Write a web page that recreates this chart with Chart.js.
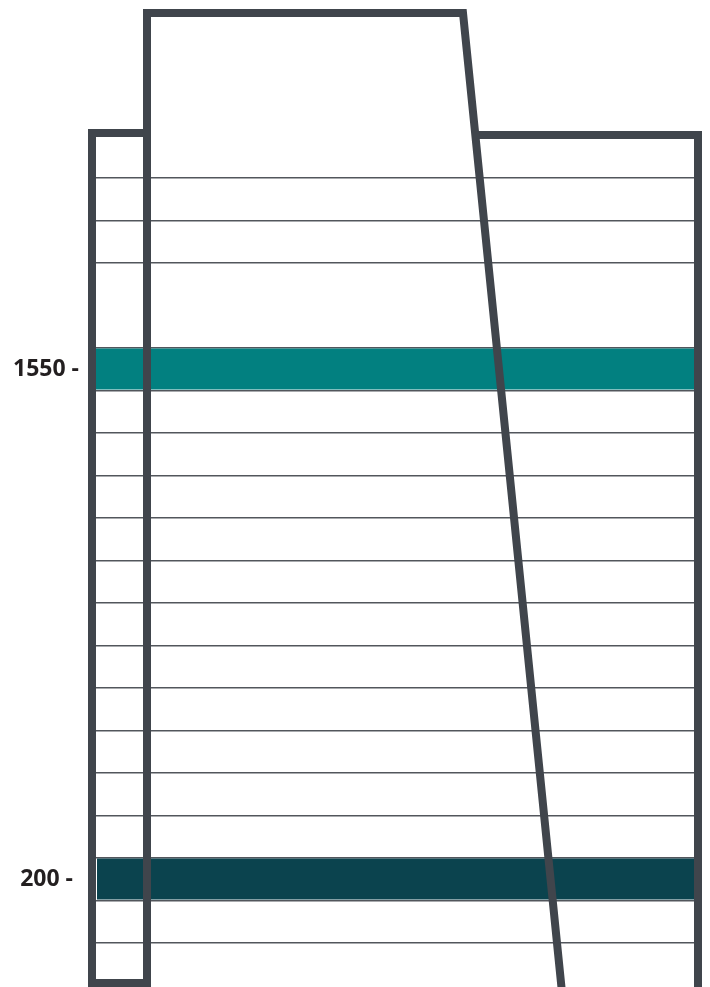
<!DOCTYPE html>
<html>
<head>
<meta charset="utf-8">
<script src="https://cdn.jsdelivr.net/npm/chart.js@4/dist/chart.umd.min.js"></script>
<style>
  html, body { margin: 0; padding: 0; background: #ffffff; }
  #wrap { width: 710px; height: 987px; position: relative; }
</style>
</head>
<body>
<div id="wrap"><canvas id="c"></canvas></div>
<script>
// ---- data ----
const bandValues = [200, 1550];
const tickLabels = ['200 - ', '1550 -'];
const rowEdges = [31.25, 143.75, 256.25, 368.75, 481.25, 593.75, 706.25, 818.75,
                  931.25, 1043.75, 1156.25, 1268.75, 1381.25, 1493.75, 1606.25,
                  1831.25, 1943.75, 2056.25];
// outline shapes (x in horizontal units, y in value units)
const outlineMainX = [147, 92, 92, 147, 147, 463, 562];
const outlineMainY = [2174.7, 2174.7, -75.3, -75.3, 2492.4, 2492.4, -100];
const outlineRightX = [474, 698, 698];
const outlineRightY = [2169.4, 2169.4, -100];

// ---- styles ----
const bandColors = ['#0b434e', '#028080'];
const bandXRange = [[97, 698], [96, 694]];
const outlineColor = '#40454c';

function pts(xs, ys) { return xs.map((x, i) => ({ x: x, y: ys[i] })); }

const datasets = [
  { data: pts(outlineMainX, outlineMainY), borderColor: outlineColor, borderWidth: 8,
    borderJoinStyle: 'miter', borderCapStyle: 'butt', pointRadius: 0, fill: false,
    tension: 0, clip: false, order: 1 },
  { data: pts(outlineRightX, outlineRightY), borderColor: outlineColor, borderWidth: 8,
    borderJoinStyle: 'miter', borderCapStyle: 'butt', pointRadius: 0, fill: false,
    tension: 0, clip: false, order: 1 }
];
bandValues.forEach((v, i) => {
  datasets.push({
    data: [{ x: bandXRange[i][0], y: v }, { x: bandXRange[i][1], y: v }],
    borderColor: bandColors[i], borderWidth: 41, borderCapStyle: 'butt',
    pointRadius: 0, fill: false, clip: false, order: 2
  });
});

const labelSet = new Set(bandValues);

new Chart(document.getElementById('c'), {
  type: 'line',
  data: { datasets: datasets },
  options: {
    responsive: true,
    maintainAspectRatio: false,
    animation: false,
    layout: { padding: { left: 0, right: 8, top: 0, bottom: 0 } },
    plugins: { legend: { display: false }, tooltip: { enabled: false } },
    scales: {
      x: { type: 'linear', min: 88, max: 702, display: false },
      y: {
        type: 'linear', min: -85.9, max: 2526.8,
        position: 'left',
        afterFit: (s) => { s.width = 88; s.paddingTop = 0; s.paddingBottom = 0; },
        afterBuildTicks: (s) => {
          const vals = rowEdges.concat(bandValues).sort((a, b) => a - b);
          s.ticks = vals.map(v => ({ value: v }));
        },
        border: { display: false },
        grid: {
          drawTicks: false,
          lineWidth: 1.4,
          color: (ctx) => (ctx.tick && labelSet.has(ctx.tick.value)) ? 'rgba(0,0,0,0)' : '#52565c'
        },
        ticks: {
          autoSkip: false,
          padding: 9,
          color: '#231f20',
          font: { family: "'Open Sans', sans-serif", size: 23, weight: 'bold' },
          callback: (v) => {
            const i = bandValues.indexOf(v);
            return i >= 0 ? tickLabels[i] : '';
          }
        }
      }
    }
  }
});
</script>
</body>
</html>
